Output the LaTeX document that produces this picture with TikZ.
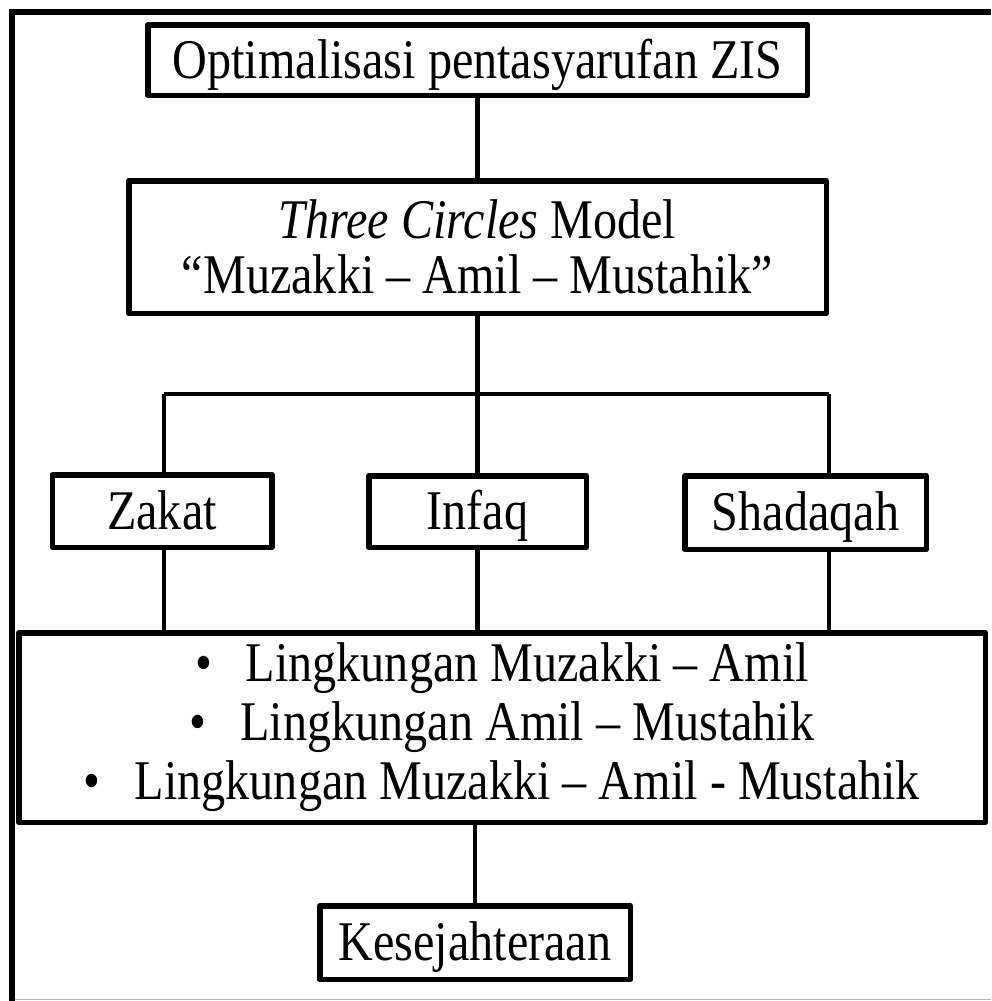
\documentclass[tikz,border=0pt]{standalone}
\usepackage{fontspec}
\setmainfont{Liberation Serif}[FakeStretch=0.86]
\begin{document}
\begin{tikzpicture}[x=1pt,y=-1pt,
  box/.style={draw=black, line width=5.5pt, line join=round, inner sep=0pt, align=center,
    font=\fontsize{56pt}{52pt}\selectfont},
  single/.style={box, text height=39pt, text depth=3pt},
  conn/.style={line width=4.5pt},
  frame/.style={line width=6pt}]
\useasboundingbox (0,0) rectangle (991,1001);
% outer frame (left and top) and thin bottom edge
\draw[gray!55, line width=1.5pt] (14,999.5) -- (991,999.5);
\draw[frame] (11.5,1001) -- (11.5,11.5) -- (991,11.5);
% nodes
\node[single, minimum width=659.5pt, minimum height=70.5pt] (top) at (477.5,60) {Optimalisasi pentasyarufan ZIS};
\node[box, minimum width=697.5pt, minimum height=132.5pt, font=\fontsize{56pt}{55pt}\selectfont] (model) at (477.5,247) {\textit{Three Circles} Model\\“Muzakki – Amil – Mustahik”};
\node[single, minimum width=219.5pt, minimum height=72.5pt] (zakat) at (162,511) {Zakat};
\node[single, minimum width=217.5pt, minimum height=71.5pt] (infaq) at (477.5,511.5) {Infaq};
\node[single, minimum width=241.5pt, minimum height=73.5pt] (shadaqah) at (805.5,512.5) {Shadaqah};
\node[box, minimum width=966.5pt, minimum height=189.5pt, font=\fontsize{56pt}{59pt}\selectfont] (big) at (502,727.5)
  {•\hspace{34pt}Lingkungan Muzakki – Amil\\
   •\hspace{34pt}Lingkungan Amil – Mustahik\\
   •\hspace{34pt}Lingkungan Muzakki – Amil - Mustahik};
\node[single, minimum width=310.5pt, minimum height=73.5pt] (kes) at (475,942.5) {Kesejahteraan};
% connectors
\coordinate (bar) at (477.5,394);
\coordinate (cZ) at (164,394);
\coordinate (cS) at (829,394);
\draw[conn] (top.south) -- (model.north);
\draw[conn] (model.south) -- (bar);
\draw[conn] (cZ) -- (cS);
\draw[conn] (cZ) -- (cZ |- zakat.north);
\draw[conn] (bar) -- (bar |- infaq.north);
\draw[conn] (cS) -- (cS |- shadaqah.north);
\draw[conn] (cZ |- zakat.south) -- (cZ |- big.north);
\draw[conn] (bar |- infaq.south) -- (bar |- big.north);
\draw[conn] (cS |- shadaqah.south) -- (cS |- big.north);
\draw[conn] (kes.north |- big.south) -- (kes.north);
\end{tikzpicture}
\end{document}
